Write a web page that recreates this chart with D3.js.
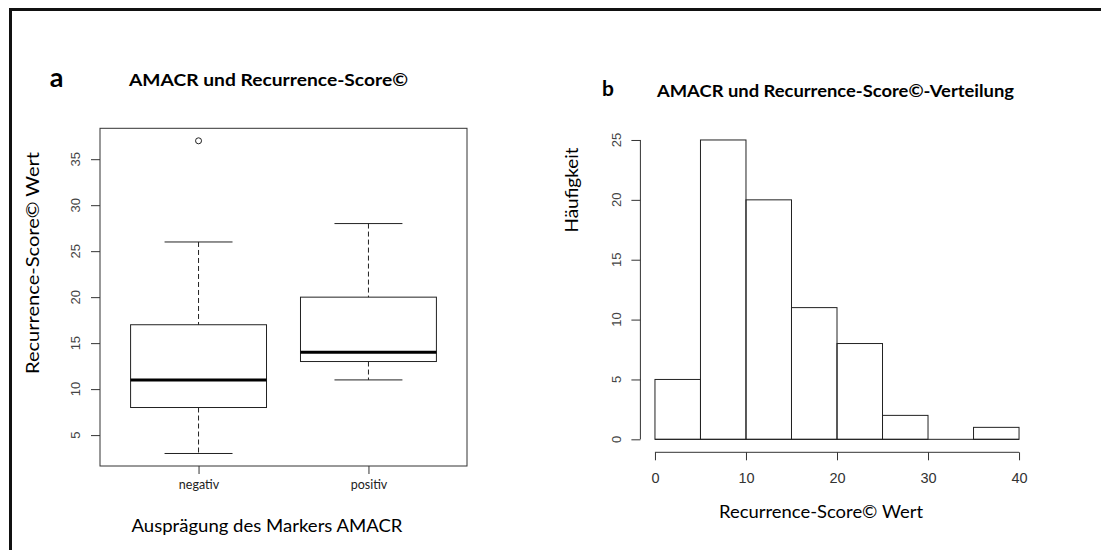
<!DOCTYPE html>
<html><head><meta charset="utf-8">
<script src="https://cdn.jsdelivr.net/npm/d3@7"></script>
<style>body{margin:0;background:#fff}svg{display:block}</style>
</head><body>
<script>
// ---- data ----
const boxCategories = ["negativ", "positiv"];
const boxLowWhisker = [3, 11];
const boxQ1 = [8, 13];
const boxMedian = [11, 14];
const boxQ3 = [17, 20];
const boxHighWhisker = [26, 28];
const boxOutliers = [[37], []];
const boxYTicks = [5, 10, 15, 20, 25, 30, 35];

const histBinStarts = [0, 5, 10, 15, 20, 25, 30, 35];
const histBinWidth = 5;
const histCounts = [5, 25, 20, 11, 8, 2, 0, 1];
const histXTicks = [0, 10, 20, 30, 40];
const histYTicks = [0, 5, 10, 15, 20, 25];

const W = 1101, H = 550;
const svg = d3.select("body").append("svg").attr("width", W).attr("height", H);
const calibri = "Lato, 'Open Sans', sans-serif";
const arial = "'Liberation Sans', Arial, sans-serif";

// outer frame (only top/left visible)
svg.append("rect").attr("x", 10.5).attr("y", 9.5).attr("width", 1200).attr("height", 700)
  .attr("fill", "none").attr("stroke", "#111").attr("stroke-width", 3);

// ---------- Panel a: boxplot ----------
const ymin = 3, ymax = 37, pad = (ymax - ymin) * 0.04;
const yA = d3.scaleLinear().domain([ymin - pad, ymax + pad]).range([466, 128.3]);
const xA = d3.scaleLinear().domain([0.42, 2.58]).range([100, 467]);
const gA = svg.append("g");
gA.append("rect").attr("x", xA(0.42)).attr("y", yA(ymax + pad)).attr("width", xA(2.58) - xA(0.42))
  .attr("height", yA(ymin - pad) - yA(ymax + pad)).attr("fill", "none").attr("stroke", "#333").attr("stroke-width", 1);

// y axis
const axA = gA.append("g").attr("transform", `translate(${xA(0.42)},0)`)
  .call(d3.axisLeft(yA).tickValues(boxYTicks).tickSize(9).tickPadding(0).tickFormat(d3.format("d")));
axA.select(".domain").remove();
axA.selectAll("line").attr("stroke", "#333");
axA.selectAll("text").remove();
gA.selectAll("text.ya").data(boxYTicks).enter().append("text")
  .attr("transform", d => `translate(${80},${yA(d)}) rotate(-90)`)
  .attr("text-anchor", "middle").attr("font-family", arial).attr("font-size", 13).attr("fill", "#444")
  .text(d => d);

// x axis
const cats = boxCategories.map((c, i) => i + 1);
const axX = gA.append("g").attr("transform", `translate(0,${yA(ymin - pad)})`)
  .call(d3.axisBottom(xA).tickValues(cats).tickSize(8).tickPadding(6).tickFormat((d) => boxCategories[d - 1]));
axX.select(".domain").remove();
axX.selectAll("line").attr("stroke", "#333");
axX.selectAll("text").attr("font-family", calibri).attr("font-size", 12.5).attr("fill", "#222");

const bw = xA(1.4) - xA(1); // half box width
boxCategories.forEach((c, i) => {
  const cx = xA(i + 1);
  gA.append("line").attr("x1", cx).attr("x2", cx).attr("y1", yA(boxHighWhisker[i])).attr("y2", yA(boxQ3[i]))
    .attr("stroke", "#222").attr("stroke-dasharray", "5,3");
  gA.append("line").attr("x1", cx).attr("x2", cx).attr("y1", yA(boxQ1[i])).attr("y2", yA(boxLowWhisker[i]))
    .attr("stroke", "#222").attr("stroke-dasharray", "5,3");
  [boxHighWhisker[i], boxLowWhisker[i]].forEach(v => {
    gA.append("line").attr("x1", cx - bw / 2).attr("x2", cx + bw / 2).attr("y1", yA(v)).attr("y2", yA(v)).attr("stroke", "#222");
  });
  gA.append("rect").attr("x", cx - bw).attr("width", 2 * bw).attr("y", yA(boxQ3[i]))
    .attr("height", yA(boxQ1[i]) - yA(boxQ3[i])).attr("fill", "none").attr("stroke", "#222");
  gA.append("line").attr("x1", cx - bw).attr("x2", cx + bw).attr("y1", yA(boxMedian[i])).attr("y2", yA(boxMedian[i]))
    .attr("stroke", "#000").attr("stroke-width", 3);
  boxOutliers[i].forEach(o => {
    gA.append("circle").attr("cx", cx).attr("cy", yA(o)).attr("r", 3).attr("fill", "none").attr("stroke", "#222");
  });
});

// titles panel a
svg.append("text").attr("x", 56.5).attr("y", 87).attr("text-anchor", "middle").attr("font-family", calibri)
  .attr("font-weight", "bold").attr("font-size", 27).text("a");
svg.append("text").attr("x", 129).attr("y", 86).attr("font-family", calibri).attr("font-weight", "bold")
  .attr("font-size", 17.5).attr("textLength", 279).attr("lengthAdjust", "spacingAndGlyphs").text("AMACR und Recurrence-Score©");
svg.append("text").attr("x", 267).attr("y", 532).attr("text-anchor", "middle").attr("font-family", calibri)
  .attr("font-size", 17).attr("textLength", 271).attr("lengthAdjust", "spacingAndGlyphs").text("Ausprägung des Markers AMACR");
svg.append("text").attr("transform", "translate(39,263) rotate(-90)").attr("text-anchor", "middle").attr("font-family", calibri)
  .attr("font-size", 17).attr("textLength", 222).attr("lengthAdjust", "spacingAndGlyphs").text("Recurrence-Score© Wert");

// ---------- Panel b: histogram ----------
const xB = d3.scaleLinear().domain([-1.6, 41.6]).range([640.4, 1033.6]);
const yB = d3.scaleLinear().domain([-1, 26]).range([451.3, 128]);
const gB = svg.append("g");
histCounts.forEach((c, i) => {
  if (c <= 0) return;
  const x0 = histBinStarts[i], x1 = x0 + histBinWidth;
  gB.append("rect").attr("x", xB(x0)).attr("width", xB(x1) - xB(x0)).attr("y", yB(c))
    .attr("height", yB(0) - yB(c)).attr("fill", "none").attr("stroke", "#222").attr("stroke-width", 1);
});
gB.append("line").attr("x1", xB(0)).attr("x2", xB(40)).attr("y1", yB(0)).attr("y2", yB(0)).attr("stroke", "#222");

const axBY = gB.append("g").attr("transform", `translate(${xB(-1.6)},0)`)
  .call(d3.axisLeft(yB).tickValues(histYTicks).tickSize(9).tickSizeOuter(0));
axBY.select(".domain").attr("d", `M0,${yB(0)}V${yB(25)}`).attr("stroke", "#333");
axBY.selectAll("line").attr("stroke", "#333");
axBY.selectAll("text").remove();
gB.selectAll("text.yb").data(histYTicks).enter().append("text")
  .attr("transform", d => `translate(${621},${yB(d)}) rotate(-90)`)
  .attr("text-anchor", "middle").attr("font-family", arial).attr("font-size", 13).attr("fill", "#444").text(d => d);

const axBX = gB.append("g").attr("transform", `translate(0,${yB(-1) + 1})`)
  .call(d3.axisBottom(xB).tickValues(histXTicks).tickSize(8).tickPadding(12).tickSizeOuter(0).tickFormat(d3.format("d")));
axBX.select(".domain").attr("d", `M${xB(0)},0H${xB(40)}`).attr("stroke", "#333");
axBX.selectAll("line").attr("stroke", "#333");
axBX.selectAll("text").attr("font-family", arial).attr("font-size", 14.5).attr("fill", "#333");

svg.append("text").attr("x", 608).attr("y", 96).attr("text-anchor", "middle").attr("font-family", calibri)
  .attr("font-weight", "bold").attr("font-size", 21).text("b");
svg.append("text").attr("x", 657).attr("y", 97).attr("font-family", calibri).attr("font-weight", "bold")
  .attr("font-size", 17).attr("textLength", 357).attr("lengthAdjust", "spacingAndGlyphs").text("AMACR und Recurrence-Score©-Verteilung");
svg.append("text").attr("x", 821).attr("y", 518).attr("text-anchor", "middle").attr("font-family", calibri)
  .attr("font-size", 17).attr("textLength", 204).attr("lengthAdjust", "spacingAndGlyphs").text("Recurrence-Score© Wert");
svg.append("text").attr("transform", "translate(578,190) rotate(-90)").attr("text-anchor", "middle").attr("font-family", calibri)
  .attr("font-size", 17).attr("textLength", 85).attr("lengthAdjust", "spacingAndGlyphs").text("Häufigkeit");
</script>
</body></html>
